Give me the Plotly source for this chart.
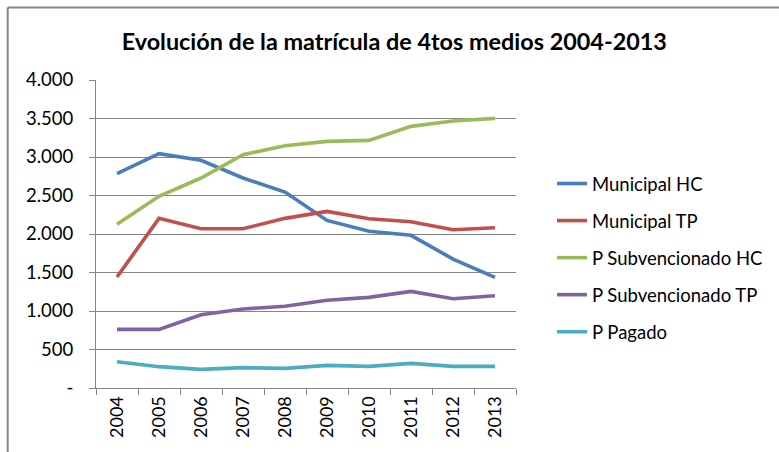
import plotly.graph_objects as go

years = ["2004", "2005", "2006", "2007", "2008", "2009", "2010", "2011", "2012", "2013"]
municipal_hc = [2784, 3043, 2957, 2727, 2545, 2177, 2035, 1983, 1675, 1437]
municipal_tp = [1442, 2203, 2069, 2069, 2203, 2294, 2199, 2160, 2056, 2082]
p_subv_hc = [2126, 2489, 2727, 3030, 3147, 3203, 3216, 3398, 3468, 3502]
p_subv_tp = [762, 762, 952, 1026, 1061, 1139, 1177, 1255, 1160, 1199]
p_pagado = [342, 277, 242, 264, 255, 294, 281, 320, 281, 281]

y_tickvals = [0, 500, 1000, 1500, 2000, 2500, 3000, 3500, 4000]
y_ticktext = ["-", "500", "1.000", "1.500", "2.000", "2.500", "3.000", "3.500", "4.000"]

series = [
    ("Municipal HC", municipal_hc, "#4A7EBB"),
    ("Municipal TP", municipal_tp, "#C0504D"),
    ("P Subvencionado HC", p_subv_hc, "#9BBB59"),
    ("P Subvencionado TP", p_subv_tp, "#8064A2"),
    ("P Pagado", p_pagado, "#4BACC6"),
]

FONT = "Lato, Carlito, Calibri, sans-serif"
GRID = "#868686"

fig = go.Figure()
for name, vals, color in series:
    fig.add_trace(go.Scatter(
        x=years, y=vals, name=name, mode="lines", legendgroup=name,
        line=dict(color=color, width=3.6),
    ))

L, R, T, B = 96, 262, 80, 64
PW, PH = 779 - L - R, 452 - T - B

def px_x(p):
    return (p - L) / PW

def px_y(p):
    return (452 - B - p) / PH

fig.update_layout(
    width=779, height=452,
    margin=dict(l=L, r=R, t=T, b=B),
    paper_bgcolor="white", plot_bgcolor="white",
    font=dict(family=FONT, size=18, color="#000000"),
    title=dict(
        text="<b>Evolución de la matrícula de 4tos medios 2004-2013</b>",
        x=px_x(395), xref="paper", xanchor="center",
        y=1 - 42 / 452, yanchor="middle",
        font=dict(family=FONT, size=23.4, color="#000000"),
    ),
    showlegend=True,
    legend=dict(
        x=px_x(552), xanchor="left", y=px_y(165), yanchor="top",
        font=dict(family=FONT, size=18.5, color="#000000"),
        tracegroupgap=10, bgcolor="rgba(0,0,0,0)",
    ),
    xaxis=dict(
        type="category", range=[-0.5, 9.5],
        showgrid=False, showline=True, linecolor=GRID, linewidth=1,
        ticks="outside", tickson="boundaries", ticklen=6, tickcolor=GRID,
        tickangle=-90, tickfont=dict(family=FONT, size=18, color="#000000"),
        zeroline=False,
    ),
    yaxis=dict(
        range=[0, 4000], tickvals=y_tickvals, ticktext=y_ticktext,
        showgrid=True, gridcolor=GRID, gridwidth=1,
        showline=True, linecolor=GRID, linewidth=1,
        ticks="outside", ticklen=6, tickcolor=GRID,
        tickfont=dict(family=FONT, size=18.5, color="#000000"),
        ticklabelstandoff=12, zeroline=False,
    ),
    shapes=[
        dict(type="line", xref="paper", yref="paper",
             x0=px_x(7.5), x1=px_x(800), y0=px_y(7.5), y1=px_y(7.5),
             line=dict(color="#868686", width=2)),
        dict(type="line", xref="paper", yref="paper",
             x0=px_x(7.5), x1=px_x(7.5), y0=px_y(7.5), y1=px_y(470),
             line=dict(color="#868686", width=2)),
    ],
)

fig.write_html(
    "out.html",
    config={"displayModeBar": False},
    post_script="document.body.style.margin='0';document.body.style.padding='0';",
)
